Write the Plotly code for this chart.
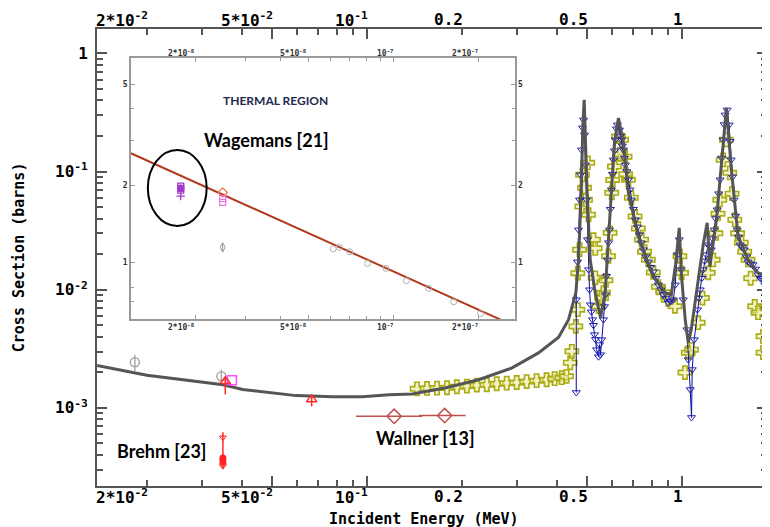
import numpy as np
import plotly.graph_objects as go

MONO = "DejaVu Sans Mono"
SANS = "Lato"

# ---------------- main panel data (energy in MeV, cross section in barns) -------------
eval_e = [0.0139, 0.020, 0.0349, 0.0403, 0.0595, 0.0777, 0.0967, 0.1175, 0.139, 0.178, 0.226,
          0.2885, 0.350, 0.4055, 0.436, 0.4523, 0.460, 0.4691, 0.4782, 0.484, 0.4888, 0.4993,
          0.5108, 0.5298, 0.5508, 0.5697, 0.5908, 0.6098, 0.6278, 0.651, 0.6753, 0.7263, 0.8004,
          0.8824, 0.9238, 0.953, 0.9792, 0.9958, 1.023, 1.0456, 1.069, 1.1108, 1.1665, 1.2008,
          1.2246, 1.2852, 1.3326, 1.3823, 1.4335, 1.5054, 1.6191, 1.7415, 1.8595]
eval_xs = [2.28e-3, 1.89e-3, 1.57e-3, 1.43e-3, 1.27e-3, 1.24e-3, 1.24e-3, 1.29e-3, 1.31e-3, 1.48e-3,
           1.73e-3, 2.18e-3, 2.92e-3, 3.97e-3, 5.58e-3, 8.23e-3, 9.43e-3, 0.0179, 0.066, 0.24, 0.404,
           0.0661, 0.0179, 9.43e-3, 5.8e-3, 9.43e-3, 0.0475, 0.175, 0.2843, 0.175, 0.0661, 0.0283,
           0.0139, 9.43e-3, 9.07e-3, 0.0163, 0.0334, 0.0129, 5.58e-3, 3.56e-3, 4.59e-3, 9.43e-3,
           0.024, 0.0368, 0.0157, 0.0391, 0.1256, 0.3454, 0.1034, 0.0283, 0.0179, 0.0139, 0.0129]

blue_e = [0.4613, 0.4613, 0.4656, 0.4691, 0.4725, 0.4760, 0.4794, 0.4829, 0.4865, 0.4901, 0.4936,
          0.4973, 0.5010, 0.5046, 0.5083, 0.5120, 0.5196, 0.5272, 0.5350, 0.5428, 0.5468, 0.5508,
          0.5548, 0.5627, 0.5709, 0.5794, 0.5879, 0.5966, 0.6053, 0.6141, 0.6231, 0.6324, 0.6417,
          0.6510, 0.6607, 0.6753, 0.6902, 0.7105, 0.7317, 0.7533, 0.7813, 0.8102, 0.8403, 0.8715,
          0.9038, 0.9374, 0.9511, 0.9651, 0.9792, 0.9936, 1.0082, 1.0356, 1.0456, 1.0610, 1.0711,
          1.0766, 1.0924, 1.1189, 1.1412, 1.1665, 1.1922, 1.2098, 1.2365, 1.2639, 1.2918, 1.3203,
          1.3495, 1.3693, 1.3895, 1.4099, 1.4306, 1.4622, 1.4953, 1.5284, 1.5735, 1.6191, 1.6792,
          1.7415, 1.8060, 1.8595]
blue_xs = [0.00135, 0.00823, 0.0172, 0.0321, 0.0576, 0.0938, 0.1526, 0.2341, 0.2735, 0.2043, 0.1139,
           0.0576, 0.0265, 0.0148, 0.0100, 0.00746, 0.00558, 0.00417, 0.00311, 0.00271, 0.00343,
           0.00282, 0.00378, 0.00558, 0.00907, 0.0179, 0.0321, 0.0700, 0.1256, 0.1854, 0.2482,
           0.2252, 0.1854, 0.1526, 0.1139, 0.0851, 0.0576, 0.0391, 0.0292, 0.0218, 0.0172, 0.0142,
           0.0110, 0.00907, 0.00776, 0.00823, 0.0110, 0.0198, 0.0265, 0.0148, 0.00823, 0.00459,
           0.00256, 0.00143, 0.00083, 0.00211, 0.00378, 0.00678, 0.0100, 0.0148, 0.0198, 0.0240,
           0.0218, 0.0321, 0.0475, 0.0851, 0.1854, 0.3015, 0.3323, 0.2482, 0.1256, 0.0576, 0.0321,
           0.0240, 0.0218, 0.0172, 0.0163, 0.0134, 0.0121, 0.0100]
# additional blue points read along the resonance flanks
blue2_e = [0.5150, 0.5230, 0.5310, 0.5670, 0.5750, 0.5840, 0.5920, 0.6010, 0.6100, 0.6190,
           0.6370, 0.6460, 0.6560, 0.6680, 0.6830, 0.7000, 0.7210, 0.7420, 0.7670, 0.7950,
           0.8250, 0.8560, 0.8870, 0.9200, 1.1300, 1.1540, 1.1790, 1.2230, 1.2500, 1.2780,
           1.3060, 1.3350, 1.3600, 1.4200, 1.4450, 1.4780, 1.5100, 1.5500, 1.6000, 1.6500,
           1.7100, 1.7700, 1.8300]
blue2_xs = [0.0065, 0.0050, 0.0038, 0.0072, 0.0130, 0.0250, 0.0480, 0.0950, 0.1500, 0.2300,
            0.2000, 0.1650, 0.1300, 0.1000, 0.0700, 0.0480, 0.0340, 0.0250, 0.0190, 0.0155,
            0.0125, 0.0100, 0.0085, 0.0080, 0.0085, 0.0125, 0.0175, 0.0230, 0.0270, 0.0400,
            0.0650, 0.1300, 0.2500, 0.1800, 0.0900, 0.0420, 0.0280, 0.0230, 0.0190, 0.0165,
            0.0150, 0.0125, 0.0110]

yel_e = [0.1441, 0.1550, 0.1667, 0.1793, 0.1928, 0.2074, 0.2231, 0.2399, 0.2580, 0.2775, 0.2985,
         0.3210, 0.3452, 0.3715, 0.3938, 0.4145, 0.4297, 0.4416, 0.4467, 0.4600, 0.4667, 0.4667,
         0.4725, 0.4805, 0.4829, 0.4901, 0.4936, 0.5019, 0.5046, 0.5232, 0.5298, 0.5298, 0.5428,
         0.5627, 0.5837, 0.5908, 0.5978, 0.6098, 0.6278, 0.6430, 0.6592, 0.6753, 0.7090, 0.7438,
         0.7813, 0.8403, 0.9038, 0.9491, 0.9842, 0.9958, 1.0207, 1.0456, 1.0711, 1.1247, 1.2098,
         1.2547, 1.3172, 1.3495, 1.3823, 1.4170, 1.4695, 1.5417, 1.6191, 1.6999, 1.7415, 1.8060,
         1.8060]
yel_xs = [0.00145, 0.00146, 0.00147, 0.00148, 0.00151, 0.00153, 0.00156, 0.00157, 0.00160, 0.00162,
          0.00164, 0.00167, 0.00170, 0.00173, 0.00177, 0.00180, 0.00185, 0.00241, 0.00301, 0.00489,
          0.00678, 0.0138, 0.0218, 0.0505, 0.0938, 0.0728, 0.0576, 0.1185, 0.0431, 0.0265, 0.0224,
          0.0126, 0.00724, 0.00943, 0.0192, 0.0303, 0.0661, 0.1103, 0.1976, 0.1854, 0.1337, 0.0851,
          0.0417, 0.0265, 0.0179, 0.0106, 0.00823, 0.00724, 0.0192, 0.0139, 0.00199, 0.00293,
          0.00311, 0.00526, 0.0139, 0.0179, 0.0576, 0.1256, 0.1854, 0.0975, 0.0391, 0.0250, 0.0179,
          0.00724, 0.00639, 0.00403, 0.00293]
yel2_e = [0.5550, 0.5730, 0.6020, 0.6350, 0.6620, 0.6900, 0.7260, 0.7600, 0.8100, 0.8700,
          1.1600, 1.2800, 1.3000, 1.4400, 1.5000, 1.5800, 1.6500]
yel2_xs = [0.0085, 0.0120, 0.0850, 0.1400, 0.0950, 0.0600, 0.0330, 0.0210, 0.0140, 0.0095,
           0.0085, 0.0300, 0.0440, 0.0650, 0.0300, 0.0210, 0.0125]

gray_e = [0.01832, 0.03447]
gray_xs = [0.00243, 0.00185]
gray_up = [0.00039, 0.00026]
gray_dn = [0.00039, 0.00017]

mag_e = [0.03724]
mag_xs = [0.00171]

red_e = [0.03548, 0.06669]
red_xs = [0.00168, 0.00118]
red_up = [0.00011, 0.00007]
red_dn = [0.00038, 0.00015]

brehm_e = [0.03487, 0.03487, 0.03487, 0.03487, 0.03487, 0.03487]
brehm_xs = [0.000561, 0.000378, 0.000366, 0.000355, 0.000332, 0.000321]
brehm_bar_e = [0.03487, 0.03487]
brehm_bar_xs = [0.000311, 0.000622]

wall_e = [0.1219, 0.1763]
wall_xs = [0.000849, 0.000861]
wall_ep = [0.0279, 0.0292]
wall_em = [0.0297, 0.0301]

# ---------------- inset (thermal region) data -------------
th_line_e = [1.18e-8, 2.53e-8, 1.0e-7, 2.7e-7]
th_line_xs = [2.68, 1.83, 0.92, 0.56]

wag_e = [1.77e-8, 1.77e-8, 1.77e-8, 1.77e-8]
wag_xs = [1.99, 1.95, 1.92, 1.82]

th_diam_e = [2.49e-8]
th_diam_xs = [1.88]
th_sq_e = [2.49e-8, 2.49e-8]
th_sq_xs = [1.78, 1.72]
th_gray_e = [2.49e-8]
th_gray_xs = [1.145]

th_circ_e = [6.12e-8, 6.43e-8, 7.0e-8, 8.09e-8, 9.4e-8, 1.11e-7, 1.33e-7, 1.63e-7, 2.03e-7]
th_circ_xs = [1.13, 1.145, 1.10, 0.99, 0.947, 0.847, 0.79, 0.70, 0.63]

# ---------------- ticks -------------
main_x_major = [0.05, 0.1, 0.5, 1]
main_x_minor = [0.02, 0.03, 0.04, 0.06, 0.07, 0.08, 0.09, 0.2, 0.3, 0.4, 0.6, 0.7, 0.8, 0.9]
main_x_lab_vals = [0.02, 0.05, 0.1, 0.2, 0.5, 1]
main_x_lab_text = ["2*10<sup>-2</sup>", "5*10<sup>-2</sup>", "10<sup>-1</sup>", "0.2", "0.5", "1"]
main_y_major = [1e-3, 1e-2, 1e-1, 1]
main_y_text = ["10<sup>-3</sup>", "10<sup>-2</sup>", "10<sup>-1</sup>", "1"]
main_y_minor = [m * 10.0 ** k for k in (-4, -3, -2, -1) for m in range(2, 10)]

in_x_major = [2e-8, 5e-8, 1e-7, 2e-7]
in_x_minor = [3e-8, 4e-8, 6e-8, 7e-8, 8e-8, 9e-8]
in_x_text = ["2*10<sup>-8</sup>", "5*10<sup>-8</sup>", "10<sup>-7</sup>", "2*10<sup>-7</sup>"]
in_y_major = [1, 2, 5]
in_y_text = ["1", "2", "5"]
in_y_minor = [0.7, 0.8, 3, 4]

blue_pts = sorted(zip(blue_e + blue2_e, blue_xs + blue2_xs))
blue_all_e = [p[0] for p in blue_pts]
blue_all_xs = [p[1] for p in blue_pts]

fig = go.Figure()

fig.add_trace(go.Scatter(x=yel_e + yel2_e, y=yel_xs + yel2_xs, mode="markers",
                         marker=dict(symbol="cross", size=11, color="rgba(232,232,150,0.5)",
                                     line=dict(color="#abab12", width=1.6))))
fig.add_trace(go.Scatter(x=blue_all_e, y=blue_all_xs, mode="lines+markers",
                         line=dict(color="#0b0b9c", width=1),
                         marker=dict(symbol="triangle-down-open", size=7, color="#2020b4",
                                     line=dict(width=1))))
fig.add_trace(go.Scatter(x=eval_e, y=eval_xs, mode="lines", line=dict(color="#555555", width=3)))

fig.add_trace(go.Scatter(x=gray_e, y=gray_xs, mode="markers",
                         marker=dict(symbol="circle-open", size=9, color="#a8a8a8", line=dict(width=1.5)),
                         error_y=dict(type="data", array=gray_up, arrayminus=gray_dn, color="#a8a8a8",
                                      thickness=1.5, width=0)))
fig.add_trace(go.Scatter(x=mag_e, y=mag_xs, mode="markers",
                         marker=dict(symbol="square-open", size=9, color="#ff50ff", line=dict(width=1.5))))
fig.add_trace(go.Scatter(x=red_e, y=red_xs, mode="markers",
                         marker=dict(symbol="triangle-up-open", size=9, color="#ff2a2a", line=dict(width=1.5)),
                         error_y=dict(type="data", array=red_up, arrayminus=red_dn, color="#ff2a2a",
                                      thickness=1.5, width=0)))
fig.add_trace(go.Scatter(x=brehm_bar_e, y=brehm_bar_xs, mode="lines",
                         line=dict(color="#ff2a2a", width=1.5)))
fig.add_trace(go.Scatter(x=brehm_e, y=brehm_xs, mode="markers",
                         marker=dict(symbol=["triangle-down-open", "circle", "circle", "circle",
                                             "triangle-down-open", "triangle-down-open"],
                                     size=6, color="#ff2020", line=dict(width=1, color="#ff2020"))))
fig.add_trace(go.Scatter(x=wall_e, y=wall_xs, mode="markers",
                         marker=dict(symbol="diamond-open", size=11, color="#c0504d", line=dict(width=1.5)),
                         error_x=dict(type="data", array=wall_ep, arrayminus=wall_em, color="#c0504d",
                                      thickness=1.5, width=0)))

# inset traces
fig.add_trace(go.Scatter(x=th_line_e, y=th_line_xs, mode="lines", xaxis="x2", yaxis="y2",
                         line=dict(color="#b23b1e", width=2)))
fig.add_trace(go.Scatter(x=wag_e, y=wag_xs, mode="markers", xaxis="x2", yaxis="y2",
                         marker=dict(symbol=["square-open", "square", "square-open", "cross-thin-open"],
                                     size=6, color="#a33cc8", line=dict(width=1.2, color="#a33cc8")),
                         error_y=dict(type="data", array=[0.04, 0.03, 0.03, 0.04], color="#a33cc8",
                                      thickness=1, width=0)))
fig.add_trace(go.Scatter(x=th_diam_e, y=th_diam_xs, mode="markers", xaxis="x2", yaxis="y2",
                         marker=dict(symbol="diamond-open", size=7, color="#e8744e", line=dict(width=1.2))))
fig.add_trace(go.Scatter(x=th_sq_e, y=th_sq_xs, mode="markers", xaxis="x2", yaxis="y2",
                         marker=dict(symbol="square-open", size=6, color="#ee6ee6", line=dict(width=1.2))))
fig.add_trace(go.Scatter(x=th_gray_e, y=th_gray_xs, mode="markers", xaxis="x2", yaxis="y2",
                         marker=dict(symbol="diamond-tall-open", size=7, color="#9a9a9a", line=dict(width=1)),
                         error_y=dict(type="data", array=[0.04], color="#9a9a9a", thickness=1, width=0)))
fig.add_trace(go.Scatter(x=th_circ_e, y=th_circ_xs, mode="markers", xaxis="x2", yaxis="y2",
                         marker=dict(symbol="circle-open", size=6, color="#b0b0b0", line=dict(width=1))))

AX = "#555555"
tickfont_main = dict(family=MONO, size=16, color="black", weight="bold")

annotations = []
for v, t in zip(main_x_lab_vals, main_x_lab_text):
    for yy in (-0.023, 1.0215):
        annotations.append(dict(x=np.log10(v), xref="x", y=yy, yref="paper", text=t,
                                showarrow=False, xanchor="right", yanchor="middle", xshift=3,
                                font=tickfont_main))
for v, t in zip(in_x_major, in_x_text):
    for yy in (0.9475, 0.348):
        annotations.append(dict(x=np.log10(v), xref="x2", y=yy, yref="paper", text=t,
                                showarrow=False, xanchor="right", yanchor="middle", xshift=1,
                                font=dict(family=MONO, size=8, color="#333", weight="bold")))
for v, t in zip(in_y_major, in_y_text):
    annotations.append(dict(x=0.6324, xref="paper", y=np.log10(v), yref="y2", text=t,
                            showarrow=False, xanchor="center", yanchor="middle",
                            font=dict(family=MONO, size=8, color="#333", weight="bold")))


def lab(px, py, text, size, color="black", family=SANS, angle=0):
    return dict(x=(px - 97) / 672, y=(486 - py) / 457, xref="paper", yref="paper", text=text,
                textangle=angle, showarrow=False, xanchor="center", yanchor="middle",
                font=dict(family=family, size=size, color=color, weight="bold"))


annotations += [
    lab(425, 519, "Incident Energy (MeV)", 15, family=MONO),
    lab(19, 257, "Cross Section (barns)", 15, family=MONO, angle=-90),
    lab(275.7, 100.7, "THERMAL REGION", 12, color="#1f2b4a"),
    lab(266.7, 140, "Wagemans [21]", 18),
    lab(161.7, 451, "Brehm [23]", 18),
    lab(426.7, 438.3, "Wallner [13]", 18),
]

shapes = [dict(type="circle", xref="paper", yref="paper",
               x0=(148 - 97) / 672, x1=(207 - 97) / 672, y0=(486 - 226) / 457, y1=(486 - 150) / 457,
               line=dict(color="black", width=2))]

# the page body adds an 8 px offset, so the figure is 8 px smaller and margins shifted
fig.update_layout(
    width=762, height=519,
    margin=dict(l=89, r=1, t=21, b=41),
    paper_bgcolor="white", plot_bgcolor="white",
    showlegend=False,
    annotations=annotations,
    shapes=shapes,
    xaxis=dict(type="log", range=[-1.8572, 0.2694], domain=[0, 1], anchor="y",
               showline=True, linecolor=AX, linewidth=2, mirror="ticks",
               ticks="inside", ticklen=10, tickwidth=1.5, tickcolor=AX,
               tickmode="array", tickvals=main_x_major, showticklabels=False,
               showgrid=False, zeroline=False,
               minor=dict(tickmode="array", tickvals=main_x_minor, ticks="inside", ticklen=6,
                          tickwidth=1.5, tickcolor=AX, showgrid=False)),
    yaxis=dict(type="log", range=[-3.661, 0.2063], domain=[0, 1], anchor="x",
               showline=True, linecolor=AX, linewidth=2, mirror="ticks",
               ticks="inside", ticklen=10, tickwidth=1.5, tickcolor=AX,
               tickmode="array", tickvals=main_y_major, ticktext=main_y_text,
               tickfont=tickfont_main, ticklabelstandoff=4,
               showgrid=False, zeroline=False,
               minor=dict(tickmode="array", tickvals=main_y_minor, ticks="inside", ticklen=6,
                          tickwidth=1.5, tickcolor=AX, showgrid=False)),
    xaxis2=dict(type="log", range=[-7.928, -6.572], domain=[0.0506, 0.6235], anchor="y2",
                showline=True, linecolor="#9a9a9a", linewidth=1.5, mirror="ticks",
                ticks="inside", ticklen=4, tickwidth=1, tickcolor="#9a9a9a",
                tickmode="array", tickvals=in_x_major, showticklabels=False,
                showgrid=False, zeroline=False,
                minor=dict(tickmode="array", tickvals=in_x_minor, ticks="inside", ticklen=3,
                           tickwidth=1, tickcolor="#9a9a9a", showgrid=False)),
    yaxis2=dict(type="log", range=[-0.2225, 0.8007], domain=[0.3654, 0.9359], anchor="x2",
                showline=True, linecolor="#9a9a9a", linewidth=1.5, mirror="ticks",
                ticks="inside", ticklen=4, tickwidth=1, tickcolor="#9a9a9a",
                tickmode="array", tickvals=in_y_major, ticktext=in_y_text,
                tickfont=dict(family=MONO, size=8, color="#333", weight="bold"),
                showgrid=False, zeroline=False,
                minor=dict(tickmode="array", tickvals=in_y_minor, ticks="inside", ticklen=3,
                           tickwidth=1, tickcolor="#9a9a9a", showgrid=False)),
)

fig.write_html("out.html")
